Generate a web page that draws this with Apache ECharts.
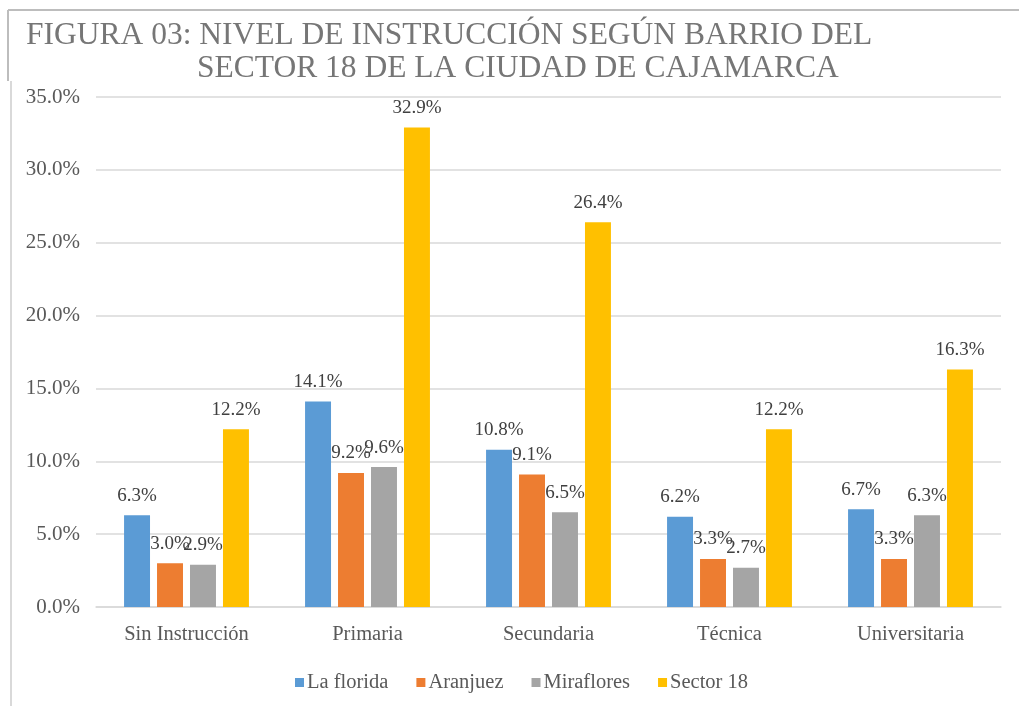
<!DOCTYPE html>
<html>
<head>
<meta charset="utf-8">
<script src="https://cdn.jsdelivr.net/npm/echarts@6/dist/echarts.min.js"></script>
<style>
  html, body { margin: 0; padding: 0; background: #fff; }
  #chart { width: 1019px; height: 706px; }
</style>
</head>
<body>
<div id="chart"></div>
<script>
const categories = ["Sin Instrucción", "Primaria", "Secundaria", "Técnica", "Universitaria"];
const laFlorida = [6.3, 14.1, 10.8, 6.2, 6.7];
const aranjuez = [3.0, 9.2, 9.1, 3.3, 3.3];
const miraflores = [2.9, 9.6, 6.5, 2.7, 6.3];
const sector18 = [12.2, 32.9, 26.4, 12.2, 16.3];
const yTicks = [0, 5, 10, 15, 20, 25, 30, 35];

const font = "'Liberation Serif', 'Times New Roman', serif";

const makeSeries = (name, data, color) => ({
    name: name,
    type: "bar",
    data: data,
    barGap: "27%",
    barCategoryGap: "31%",
    itemStyle: { color: color },
    label: {
        show: true,
        position: "top",
        distance: 10,
        formatter: p => p.value.toFixed(1) + "%",
        color: "#404040",
        fontFamily: font,
        fontSize: 19
    }
});

let myChart = echarts.init(document.getElementById("chart"));
myChart.setOption({
    animation: false,
    title: [
        {
            text: "FIGURA 03: NIVEL DE INSTRUCCIÓN SEGÚN BARRIO DEL",
            left: 21,
            top: 15,
            textStyle: { fontFamily: font, fontSize: 31.5, fontWeight: "normal", color: "#767676" }
        },
        {
            text: "SECTOR 18 DE LA CIUDAD DE CAJAMARCA",
            left: 192,
            top: 48,
            textStyle: { fontFamily: font, fontSize: 31.5, fontWeight: "normal", color: "#767676" }
        }
    ],
    graphic: [
        { type: "line", shape: { x1: 8, y1: 10, x2: 1019, y2: 10 }, style: { stroke: "#bdbdbd", lineWidth: 2 } },
        { type: "line", shape: { x1: 8, y1: 10, x2: 8, y2: 81 }, style: { stroke: "#bdbdbd", lineWidth: 2 } },
        { type: "line", shape: { x1: 11, y1: 81, x2: 11, y2: 706 }, style: { stroke: "#d9d9d9", lineWidth: 2 } }
    ],
    legend: {
        data: ["La florida", "Aranjuez", "Miraflores", "Sector 18"],
        bottom: 8,
        left: 290,
        icon: "rect",
        itemWidth: 9,
        itemHeight: 9,
        itemGap: 28,
        textStyle: { fontFamily: font, fontSize: 20.5, color: "#595959", padding: [0, 0, 0, -2] }
    },
    grid: {
        left: 96,
        right: 18,
        top: 97,
        bottom: 99
    },
    xAxis: {
        type: "category",
        data: categories,
        axisLine: { lineStyle: { color: "#d9d9d9", width: 1.5 } },
        axisTick: { show: false },
        axisLabel: { fontFamily: font, fontSize: 20.5, color: "#595959", margin: 17 }
    },
    yAxis: {
        type: "value",
        min: yTicks[0],
        max: yTicks[yTicks.length - 1],
        interval: 5,
        axisLine: { show: false },
        axisTick: { show: false },
        splitLine: { lineStyle: { color: "#d9d9d9", width: 1.5 } },
        axisLabel: {
            fontFamily: font,
            fontSize: 21,
            color: "#595959",
            margin: 16,
            formatter: v => v.toFixed(1) + "%"
        }
    },
    series: [
        makeSeries("La florida", laFlorida, "#5b9bd5"),
        makeSeries("Aranjuez", aranjuez, "#ed7d31"),
        makeSeries("Miraflores", miraflores, "#a5a5a5"),
        makeSeries("Sector 18", sector18, "#ffc000")
    ]
});
</script>
</body>
</html>
